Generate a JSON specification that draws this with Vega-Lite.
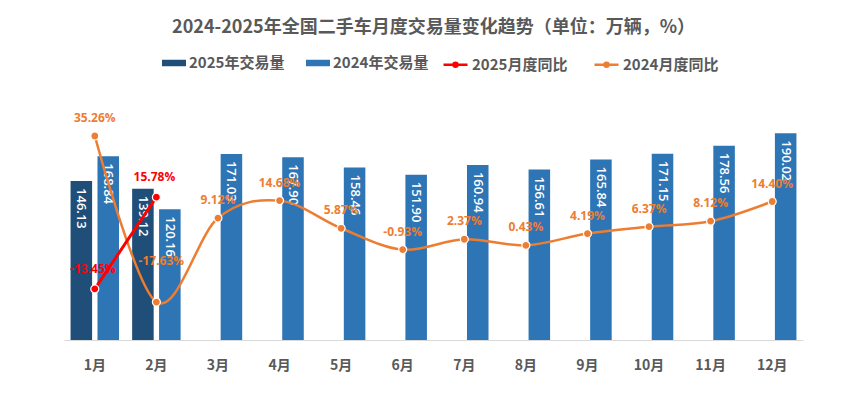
{
  "$schema": "https://vega.github.io/schema/vega-lite/v6.json",
  "width": 739,
  "height": 250,
  "autosize": {"type": "none"},
  "padding": {"left": 64, "top": 90, "right": 53, "bottom": 59},
  "background": "white",
  "title": {
    "text": "2024-2025年全国二手车月度交易量变化趋势（单位：万辆，%）",
    "anchor": "middle",
    "frame": "group",
    "font": "Noto Sans CJK SC",
    "fontSize": 18,
    "fontWeight": "bold",
    "color": "#595959",
    "offset": 14
  },
  "data": {
    "values": [
      {"month": "1月", "year": "2025", "volume": 146.13, "yoy": -0.1345, "barSeries": "2025年交易量", "lineSeries": "2025月度同比"},
      {"month": "2月", "year": "2025", "volume": 139.12, "yoy": 0.1578, "barSeries": "2025年交易量", "lineSeries": "2025月度同比"},
      {"month": "1月", "year": "2024", "volume": 168.84, "yoy": 0.3526, "barSeries": "2024年交易量", "lineSeries": "2024月度同比"},
      {"month": "2月", "year": "2024", "volume": 120.16, "yoy": -0.1763, "barSeries": "2024年交易量", "lineSeries": "2024月度同比"},
      {"month": "3月", "year": "2024", "volume": 171.03, "yoy": 0.0912, "barSeries": "2024年交易量", "lineSeries": "2024月度同比"},
      {"month": "4月", "year": "2024", "volume": 167.90, "yoy": 0.1468, "barSeries": "2024年交易量", "lineSeries": "2024月度同比"},
      {"month": "5月", "year": "2024", "volume": 158.46, "yoy": 0.0587, "barSeries": "2024年交易量", "lineSeries": "2024月度同比"},
      {"month": "6月", "year": "2024", "volume": 151.90, "yoy": -0.0093, "barSeries": "2024年交易量", "lineSeries": "2024月度同比"},
      {"month": "7月", "year": "2024", "volume": 160.94, "yoy": 0.0237, "barSeries": "2024年交易量", "lineSeries": "2024月度同比"},
      {"month": "8月", "year": "2024", "volume": 156.61, "yoy": 0.0043, "barSeries": "2024年交易量", "lineSeries": "2024月度同比"},
      {"month": "9月", "year": "2024", "volume": 165.84, "yoy": 0.0419, "barSeries": "2024年交易量", "lineSeries": "2024月度同比"},
      {"month": "10月", "year": "2024", "volume": 171.15, "yoy": 0.0637, "barSeries": "2024年交易量", "lineSeries": "2024月度同比"},
      {"month": "11月", "year": "2024", "volume": 178.56, "yoy": 0.0812, "barSeries": "2024年交易量", "lineSeries": "2024月度同比"},
      {"month": "12月", "year": "2024", "volume": 190.02, "yoy": 0.1440, "barSeries": "2024年交易量", "lineSeries": "2024月度同比"}
    ]
  },
  "encoding": {
    "x": {
      "field": "month",
      "type": "ordinal",
      "sort": ["1月", "2月", "3月", "4月", "5月", "6月", "7月", "8月", "9月", "10月", "11月", "12月"],
      "scale": {"paddingInner": 0.213, "paddingOuter": 0.1065},
      "axis": {
        "title": null,
        "labelAngle": 0,
        "ticks": false,
        "domain": true,
        "domainColor": "#D9D9D9",
        "domainWidth": 1,
        "labelFont": "Noto Sans CJK SC",
        "labelFontSize": 14,
        "labelFontWeight": "bold",
        "labelColor": "#595959",
        "labelPadding": 18,
        "grid": false
      }
    }
  },
  "layer": [
    {
      "mark": {"type": "bar"},
      "encoding": {
        "xOffset": {"field": "year", "type": "nominal", "scale": {"domain": ["2025", "2024"], "paddingInner": 0.2, "paddingOuter": 0}},
        "y": {"field": "volume", "type": "quantitative", "scale": {"domain": [0, 229.8], "nice": false, "zero": true}, "axis": null},
        "color": {
          "field": "barSeries",
          "type": "nominal",
          "scale": {"domain": ["2025年交易量", "2024年交易量"], "range": ["#1F4E79", "#2E75B6"]},
          "legend": {
            "title": null,
            "orient": "none",
            "legendX": 98,
            "legendY": -39,
            "direction": "horizontal",
            "columns": 2,
            "columnPadding": 21,
            "labelOffset": 3,
            "symbolType": "M-1,-0.27H1V0.27H-1Z",
            "symbolSize": 576,
            "symbolStrokeWidth": 0,
            "labelFont": "Noto Sans CJK SC",
            "labelFontSize": 15,
            "labelFontWeight": "bold",
            "labelColor": "#595959"
          }
        }
      }
    },
    {
      "mark": {"type": "text", "angle": 90, "align": "left", "baseline": "middle", "dx": 7, "font": "Open Sans", "fontSize": 13, "fontWeight": 600, "color": "white"},
      "encoding": {
        "xOffset": {"field": "year", "type": "nominal", "scale": {"domain": ["2025", "2024"], "paddingInner": 0.2, "paddingOuter": 0}},
        "y": {"field": "volume", "type": "quantitative", "scale": {"domain": [0, 229.8], "nice": false, "zero": true}, "axis": null},
        "text": {"field": "volume", "type": "quantitative", "format": ".2f"}
      }
    },
    {
      "transform": [{"filter": "datum.year == '2024'"}],
      "mark": {"type": "line", "interpolate": "cardinal", "strokeWidth": 2.5},
      "encoding": {
        "y": {"field": "yoy", "type": "quantitative", "scale": {"domain": [-0.2972, 0.4992], "nice": false, "zero": false}, "axis": null},
        "stroke": {
          "field": "lineSeries",
          "type": "nominal",
          "scale": {"domain": ["2025月度同比", "2024月度同比"], "range": ["#FF0000", "#ED7D31"]},
          "legend": {
            "title": null,
            "orient": "none",
            "legendX": 378,
            "legendY": -39,
            "direction": "horizontal",
            "columns": 2,
            "columnPadding": 21,
            "labelOffset": 3,
            "symbolType": "M-1,0H1M-0.16,0A0.16,0.16 0 1 1 0.16,0A0.16,0.16 0 1 1 -0.16,0Z",
            "symbolSize": 576,
            "symbolStrokeWidth": 2.6,
            "labelFont": "Noto Sans CJK SC",
            "labelFontSize": 15,
            "labelFontWeight": "bold",
            "labelColor": "#595959"
          }
        }
      }
    },
    {
      "transform": [{"filter": "datum.year == '2025'"}],
      "mark": {"type": "line", "interpolate": "linear", "strokeWidth": 3},
      "encoding": {
        "y": {"field": "yoy", "type": "quantitative", "scale": {"domain": [-0.2972, 0.4992], "nice": false, "zero": false}, "axis": null},
        "stroke": {"field": "lineSeries", "type": "nominal"}
      }
    },
    {
      "mark": {"type": "point", "filled": true, "size": 64, "stroke": "white", "strokeWidth": 1.2, "opacity": 1},
      "encoding": {
        "y": {"field": "yoy", "type": "quantitative", "scale": {"domain": [-0.2972, 0.4992], "nice": false, "zero": false}, "axis": null},
        "fill": {
          "field": "lineSeries",
          "type": "nominal",
          "scale": {"domain": ["2025月度同比", "2024月度同比"], "range": ["#FF0000", "#ED7D31"]},
          "legend": null
        }
      }
    },
    {
      "transform": [{"filter": "datum.year == '2024' && datum.month != '2月'"}],
      "mark": {"type": "text", "dy": -18, "font": "Open Sans", "fontSize": 12, "fontWeight": "bold", "color": "#ED7D31"},
      "encoding": {
        "y": {"field": "yoy", "type": "quantitative", "scale": {"domain": [-0.2972, 0.4992], "nice": false, "zero": false}, "axis": null},
        "text": {"field": "yoy", "type": "quantitative", "format": ".2%"}
      }
    },
    {
      "transform": [{"filter": "datum.year == '2024' && datum.month == '2月'"}],
      "mark": {"type": "text", "dy": -41, "dx": 5, "font": "Open Sans", "fontSize": 12, "fontWeight": "bold", "color": "#ED7D31"},
      "encoding": {
        "y": {"field": "yoy", "type": "quantitative", "scale": {"domain": [-0.2972, 0.4992], "nice": false, "zero": false}, "axis": null},
        "text": {"field": "yoy", "type": "quantitative", "format": ".2%"}
      }
    },
    {
      "transform": [{"filter": "datum.year == '2025'"}],
      "mark": {"type": "text", "dy": -20, "dx": -2, "font": "Open Sans", "fontSize": 12, "fontWeight": "bold", "color": "#FF0000"},
      "encoding": {
        "y": {"field": "yoy", "type": "quantitative", "scale": {"domain": [-0.2972, 0.4992], "nice": false, "zero": false}, "axis": null},
        "text": {"field": "yoy", "type": "quantitative", "format": ".2%"}
      }
    }
  ],
  "resolve": {"scale": {"y": "independent"}},
  "config": {
    "view": {"stroke": null},
    "locale": {"number": {"decimal": ".", "thousands": ",", "grouping": [3], "currency": ["", ""], "minus": "-"}}
  }
}
